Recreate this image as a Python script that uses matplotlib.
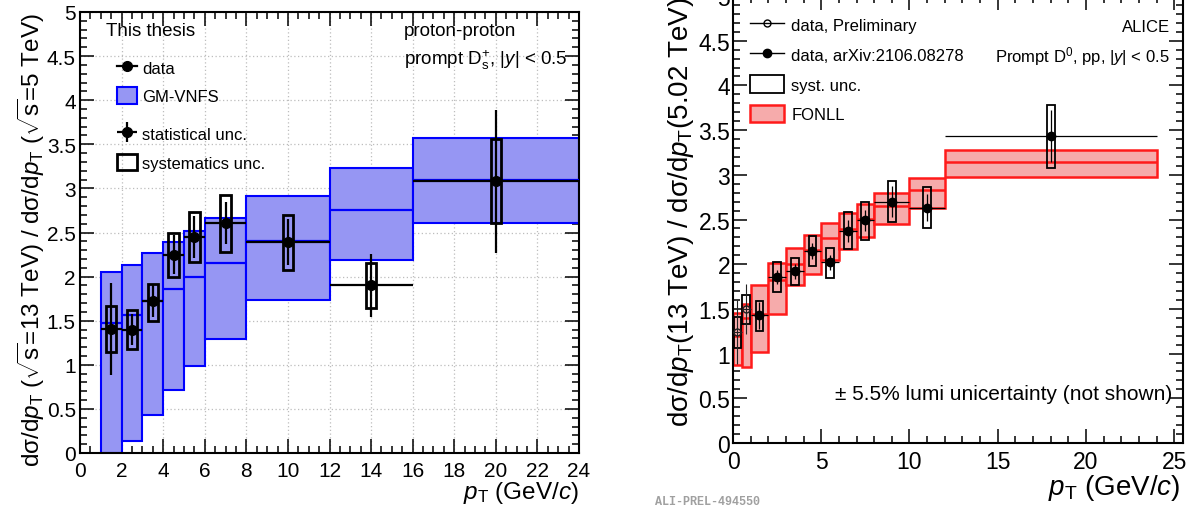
import matplotlib
matplotlib.use('Agg')
import matplotlib.pyplot as plt
import numpy as np
from matplotlib.ticker import MultipleLocator
from matplotlib.lines import Line2D
from matplotlib.patches import Patch

plt.rcParams['font.family'] = ['Liberation Sans', 'DejaVu Sans']
plt.rcParams['mathtext.fontset'] = 'custom'
plt.rcParams['mathtext.rm'] = 'Liberation Sans'
plt.rcParams['mathtext.it'] = 'Liberation Sans:italic'
plt.rcParams['mathtext.bf'] = 'Liberation Sans:bold'

# ---------------- Left panel data: Ds+ 13 TeV / 5 TeV ----------------
ds_pt_lo = np.array([1, 2, 3, 4, 5, 6, 8, 12, 16])
ds_pt_hi = np.array([2, 3, 4, 5, 6, 8, 12, 16, 24])
ds_pt = np.array([1.5, 2.5, 3.5, 4.5, 5.5, 7, 10, 14, 20])
ds_ratio = np.array([1.41, 1.40, 1.72, 2.25, 2.45, 2.61, 2.39, 1.90, 3.08])
ds_stat = np.array([0.52, 0.18, 0.18, 0.22, 0.24, 0.24, 0.26, 0.36, 0.81])
ds_syst_lo = np.array([1.15, 1.18, 1.50, 1.99, 2.16, 2.28, 2.08, 1.64, 2.61])
ds_syst_hi = np.array([1.67, 1.62, 1.92, 2.49, 2.73, 2.93, 2.70, 2.15, 3.56])
gm_lo = np.array([0.00, 0.14, 0.43, 0.71, 0.99, 1.29, 1.73, 2.19, 2.61])
gm_hi = np.array([2.05, 2.13, 2.27, 2.39, 2.52, 2.66, 2.91, 3.23, 3.57])
gm_c = np.array([1.47, 1.57, 1.72, 1.86, 1.99, 2.15, 2.40, 2.75, 3.09])

# ---------------- Right panel data: D0 13 TeV / 5.02 TeV ----------------
fonll_pt_lo = np.array([0, 0.5, 1, 2, 3, 4, 5, 6, 7, 8, 10, 12])
fonll_pt_hi = np.array([0.5, 1, 2, 3, 4, 5, 6, 7, 8, 10, 12, 24])
fonll_lo = np.array([0.87, 0.85, 1.02, 1.44, 1.77, 1.89, 2.05, 2.17, 2.30, 2.45, 2.63, 2.97])
fonll_hi = np.array([1.45, 1.56, 1.77, 2.01, 2.18, 2.33, 2.46, 2.57, 2.67, 2.80, 2.96, 3.28])
fonll_c = np.array([1.20, 1.40, 1.44, 1.82, 2.00, 2.16, 2.29, 2.39, 2.51, 2.65, 2.83, 3.14])

prel_pt = np.array([0.25, 0.75])
prel_pt_lo = np.array([0.0, 0.5])
prel_pt_hi = np.array([0.5, 1.0])
prel_ratio = np.array([1.24, 1.50])
prel_stat = np.array([0.36, 0.28])
prel_syst_lo = np.array([1.06, 1.33])
prel_syst_hi = np.array([1.41, 1.66])

pub_pt = np.array([1.5, 2.5, 3.5, 4.5, 5.5, 6.5, 7.5, 9, 11, 18])
pub_pt_lo = np.array([1, 2, 3, 4, 5, 6, 7, 8, 10, 12])
pub_pt_hi = np.array([2, 3, 4, 5, 6, 7, 8, 10, 12, 24])
pub_ratio = np.array([1.43, 1.86, 1.92, 2.15, 2.02, 2.37, 2.49, 2.70, 2.63, 3.43])
pub_stat = np.array([0.15, 0.08, 0.08, 0.09, 0.08, 0.12, 0.12, 0.17, 0.15, 0.29])
pub_syst_lo = np.array([1.25, 1.69, 1.77, 1.98, 1.85, 2.17, 2.27, 2.47, 2.40, 3.08])
pub_syst_hi = np.array([1.59, 2.02, 2.07, 2.32, 2.18, 2.58, 2.70, 2.93, 2.86, 3.78])

BLUE_FILL = '#9696f3'
RED_FILL = '#f6abab'

W, H = 1198, 510
fig = plt.figure(figsize=(W / 100, H / 100), dpi=100)

def style_axes(ax, lab_size):
    for s in ax.spines.values():
        s.set_linewidth(1.5)
    ax.tick_params(which='both', direction='in', top=True, right=True,
                   labelsize=lab_size, width=1.1)
    ax.tick_params(which='major', length=10)
    ax.tick_params(which='minor', length=5)

# ================= LEFT =================
ax1 = fig.add_axes([80 / W, (H - 454) / H, 499 / W, 441 / H])
ax1.set_xlim(0, 24)
ax1.set_ylim(0, 5)
ax1.xaxis.set_major_locator(MultipleLocator(2))
ax1.xaxis.set_minor_locator(MultipleLocator(0.5))
ax1.yaxis.set_major_locator(MultipleLocator(0.5))
ax1.yaxis.set_minor_locator(MultipleLocator(0.1))
ax1.yaxis.set_major_formatter(matplotlib.ticker.FuncFormatter(lambda v, p: f'{v:g}'))
style_axes(ax1, 15)
ax1.tick_params(axis='x', pad=6)
ax1.tick_params(axis='y', pad=3)
ax1.grid(True, which='major', ls=(0, (1, 2)), color='#bdbdbd', lw=0.9)
ax1.set_axisbelow(True)

ax1.bar(ds_pt_lo, gm_hi - gm_lo, width=ds_pt_hi - ds_pt_lo, bottom=gm_lo, align='edge',
        facecolor=BLUE_FILL, edgecolor='#0000ff', lw=1.5, zorder=2)
ax1.hlines(gm_c, ds_pt_lo, ds_pt_hi, color='#0000ff', lw=1.6, zorder=3)
ax1.bar(ds_pt, ds_syst_hi - ds_syst_lo, width=0.5, bottom=ds_syst_lo,
        fill=False, edgecolor='k', lw=2, zorder=4)
ax1.errorbar(ds_pt, ds_ratio, xerr=[ds_pt - ds_pt_lo, ds_pt_hi - ds_pt],
             yerr=ds_stat, fmt='o', color='k', ms=7, elinewidth=1.6, capsize=0, zorder=5)

ax1.set_ylabel('dσ/d$p_{\\mathrm{T}}$ ($\\sqrt{\\mathrm{s}}$=13 TeV) / dσ/d$p_{\\mathrm{T}}$ ($\\sqrt{\\mathrm{s}}$=5 TeV)',
               fontsize=17.5, loc='top')
ax1.yaxis.set_label_coords(-0.066, 1.0)
ax1.set_xlabel('$p_{\\mathrm{T}}$ (GeV/$c$)', fontsize=17.5, loc='right')
ax1.xaxis.set_label_coords(1.0, -0.058)

ax1.text(0.052, 0.957, 'This thesis', transform=ax1.transAxes, fontsize=13.5, va='center')
ax1.text(0.649, 0.957, 'proton-proton', transform=ax1.transAxes, fontsize=13.5, va='center')
ax1.text(0.649, 0.893, 'prompt $\\mathrm{D}_{\\mathrm{s}}^{+}$, |$y$| < 0.5',
         transform=ax1.transAxes, fontsize=13.5, va='center')

h_data = Line2D([], [], color='k', lw=1.6, marker='o', ms=7)
h_gm = Patch(facecolor=BLUE_FILL, edgecolor='#0000ff', lw=1.5)
leg1 = ax1.legend([h_data, h_gm], ['data', 'GM-VNFS'], loc='upper left',
                  bbox_to_anchor=(0.074, 0.893), frameon=False, fontsize=12,
                  borderpad=0, borderaxespad=0, handlelength=1.2, handleheight=1.15,
                  handletextpad=0.3, labelspacing=0.68)
ax1.add_artist(leg1)
h_stat = (Line2D([], [], color='k', ls='none', marker='o', ms=7),
          Line2D([], [], color='k', ls='none', marker='+', ms=15, mew=1.6))
h_syst = Patch(facecolor='none', edgecolor='k', lw=2)
ax1.legend([h_stat, h_syst], ['statistical unc.', 'systematics unc.'], loc='upper left',
           bbox_to_anchor=(0.074, 0.743), frameon=False, fontsize=12,
           borderpad=0, borderaxespad=0, handlelength=1.2, handleheight=1.15,
           handletextpad=0.3, labelspacing=0.68)

# ================= RIGHT =================
ax2 = fig.add_axes([733 / W, (H - 444) / H, 450 / W, 447 / H])
ax2.set_xlim(0, 25.5)
ax2.set_ylim(0, 5)
ax2.xaxis.set_major_locator(MultipleLocator(5))
ax2.xaxis.set_minor_locator(MultipleLocator(1))
ax2.yaxis.set_major_locator(MultipleLocator(0.5))
ax2.yaxis.set_minor_locator(MultipleLocator(0.1))
ax2.yaxis.set_major_formatter(matplotlib.ticker.FuncFormatter(lambda v, p: f'{v:g}'))
style_axes(ax2, 16.5)
ax2.tick_params(axis='x', pad=5)
ax2.tick_params(axis='y', pad=2)

ax2.bar(fonll_pt_lo, fonll_hi - fonll_lo, width=fonll_pt_hi - fonll_pt_lo, bottom=fonll_lo,
        align='edge', facecolor=RED_FILL, edgecolor='#ff1a1a', lw=1.8, zorder=2)
ax2.hlines(fonll_c, fonll_pt_lo, fonll_pt_hi, color='#ff1a1a', lw=1.8, zorder=3)

ax2.bar(prel_pt, prel_syst_hi - prel_syst_lo, width=0.44, bottom=prel_syst_lo,
        fill=False, edgecolor='k', lw=1.3, zorder=4)
ax2.bar(pub_pt, pub_syst_hi - pub_syst_lo, width=0.44, bottom=pub_syst_lo,
        fill=False, edgecolor='k', lw=1.3, zorder=4)
ax2.errorbar(prel_pt, prel_ratio, xerr=[prel_pt - prel_pt_lo, prel_pt_hi - prel_pt],
             yerr=prel_stat, fmt='o', color='#222222', mfc='none', ms=5, elinewidth=0.8,
             capsize=0, zorder=5)
ax2.errorbar(pub_pt, pub_ratio, xerr=[pub_pt - pub_pt_lo, pub_pt_hi - pub_pt],
             yerr=pub_stat, fmt='o', color='k', ms=6, elinewidth=0.9, capsize=0, zorder=5)

ax2.set_ylabel('dσ/d$p_{\\mathrm{T}}$(13 TeV) / dσ/d$p_{\\mathrm{T}}$(5.02 TeV)',
               fontsize=20, loc='top')
ax2.yaxis.set_label_coords(-0.082, 1.0)
ax2.set_xlabel('$p_{\\mathrm{T}}$ (GeV/$c$)', fontsize=20, loc='right')
ax2.xaxis.set_label_coords(0.995, -0.064)

ax2.text(0.971, 0.931, 'ALICE', transform=ax2.transAxes, fontsize=12, ha='right', va='center')
ax2.text(0.971, 0.866, 'Prompt $\\mathrm{D}^{0}$, pp, |$y$| < 0.5', transform=ax2.transAxes,
         fontsize=12, ha='right', va='center')
ax2.text(0.227, 0.11, '± 5.5% lumi unicertainty (not shown)', transform=ax2.transAxes,
         fontsize=15, ha='left', va='center')

h_prel = Line2D([], [], color='k', lw=1, marker='o', ms=5, mfc='none')
h_pub = Line2D([], [], color='k', lw=1, marker='o', ms=6)
h_sys2 = Patch(facecolor='none', edgecolor='k', lw=1.3)
h_fonll = Patch(facecolor=RED_FILL, edgecolor='#ff1a1a', lw=1.8)
ax2.legend([h_prel, h_pub, h_sys2, h_fonll],
           ['data, Preliminary', 'data, arXiv:2106.08278', 'syst. unc.', 'FONLL'],
           loc='upper left', bbox_to_anchor=(0.038, 0.955), frameon=False, fontsize=12,
           borderpad=0, borderaxespad=0, handlelength=2.05, handleheight=1.2,
           handletextpad=0.42, labelspacing=0.75)

fig.text(655 / W, 1 - 502 / H, 'ALI-PREL-494550', fontsize=8.5, color='#a0a0a0',
         family='Liberation Mono', weight='bold', va='center', ha='left')

fig.savefig('out.png', dpi=100)
